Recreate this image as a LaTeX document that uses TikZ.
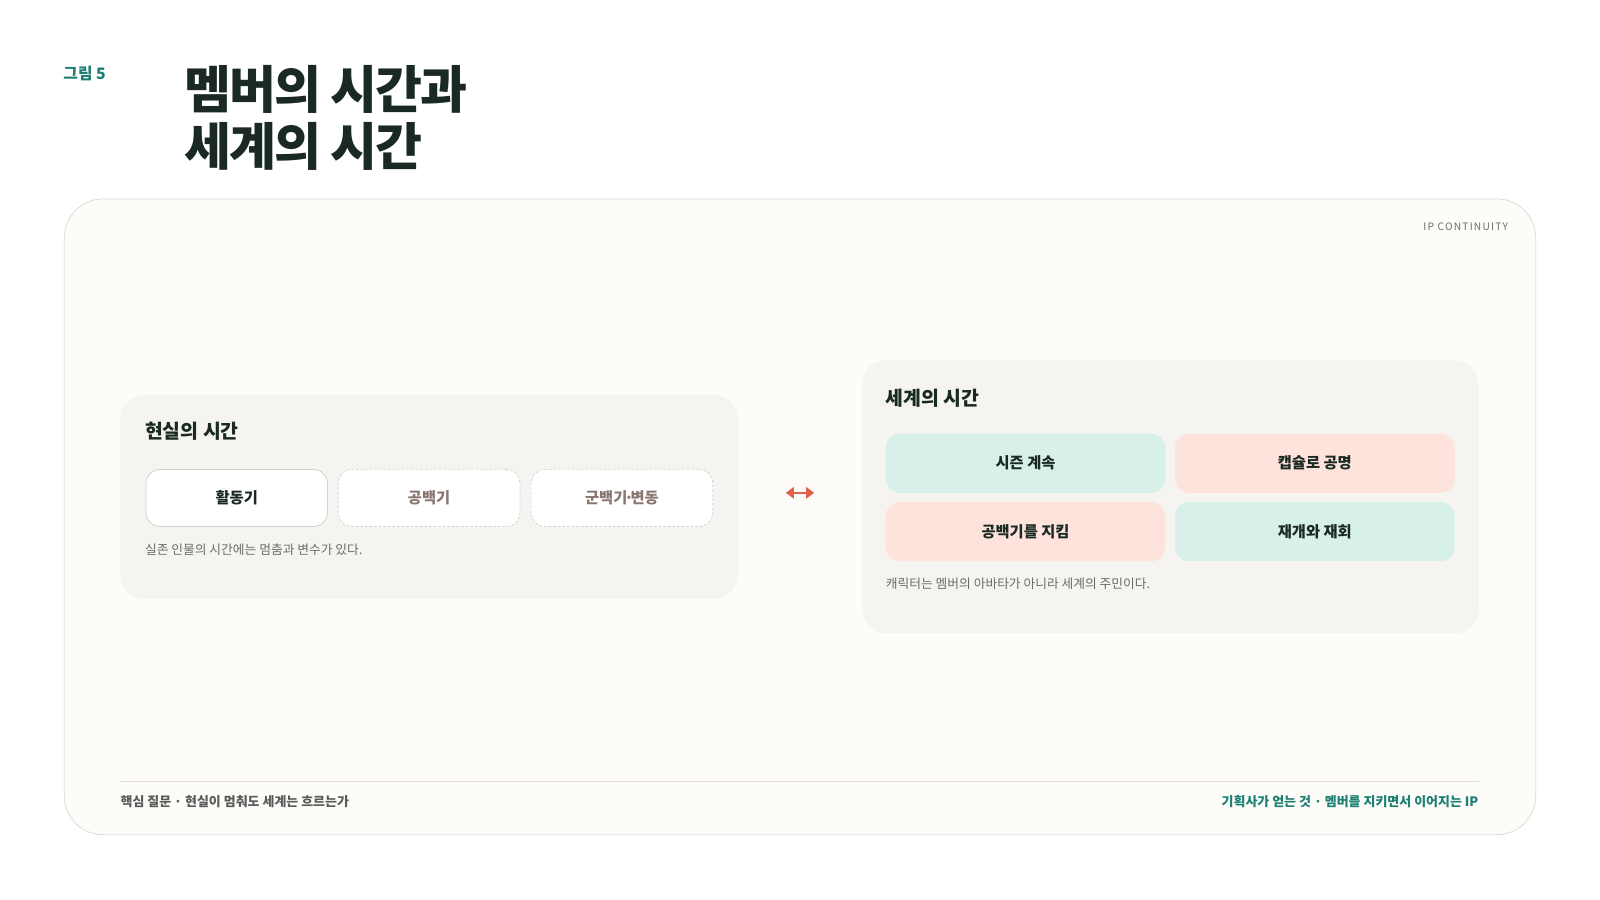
\documentclass[tikz,border=0pt]{standalone}
\usepackage{fontspec}
\setmainfont{Noto Sans CJK KR}
\usetikzlibrary{positioning,arrows.meta}
\definecolor{teal}{HTML}{1B7F72}
\definecolor{ink}{HTML}{1A2A22}
\definecolor{panelbg}{HTML}{FDFCF9}
\definecolor{panelline}{HTML}{E0DDD6}
\definecolor{cardbg}{HTML}{F5F4F0}
\definecolor{boxline}{HTML}{D6D1C9}
\definecolor{mutedtxt}{HTML}{8A7670}
\definecolor{captxt}{HTML}{6B6B6B}
\definecolor{mint}{HTML}{D8F0EA}
\definecolor{peach}{HTML}{FDE3DC}
\definecolor{arrowred}{HTML}{E0604A}
\definecolor{foottxt}{HTML}{5A5A5A}
\tikzset{
  card/.style={fill=cardbg, draw=none, rounded corners=24pt},
  phasebox/.style={fill=white, rounded corners=14pt, minimum width=178pt, minimum height=56pt, font=\bfseries\fontsize{15}{18}\selectfont},
  solidbox/.style={phasebox, draw=boxline, line width=0.8pt, text=ink},
  dashbox/.style={phasebox, draw=boxline, dashed, dash pattern=on 2.5pt off 2pt, line width=0.7pt, text=mutedtxt},
  worldbox/.style={rounded corners=14pt, draw=none, minimum width=274pt, minimum height=58pt, text=ink, font=\bfseries\fontsize{15}{18}\selectfont},
  cardtitle/.style={anchor=west, text=ink, font=\bfseries\fontsize{19}{22}\selectfont, inner sep=0pt},
  caption/.style={anchor=west, text=captxt, font=\fontsize{12.5}{15}\selectfont, inner sep=0pt},
}
\begin{document}
\begin{tikzpicture}[x=1pt,y=-1pt]
\useasboundingbox (0,0) rectangle (1568,882);
\fill[white] (0,0) rectangle (1568,882);
% header
\node[anchor=west, inner sep=0pt, text=teal, font=\bfseries\fontsize{15.5}{18}\selectfont] (fig) at (62,72) {그림 5};
\node[anchor=north west, inner sep=0pt, align=left, text=ink, font=\bfseries\fontsize{50}{56}\selectfont\addfontfeatures{LetterSpace=-4}] (title) at (180.5,64) {멤버의 시간과\\세계의 시간};
% outer panel
\draw[fill=panelbg, draw=panelline, line width=0.8pt, rounded corners=38pt] (63,195) rectangle (1505,818);
\node[anchor=east, inner sep=0pt, text=captxt, font=\fontsize{10}{12}\selectfont\addfontfeatures{LetterSpace=12}] (tag) at (1478,222) {IP CONTINUITY};
% left card
\fill[card] (118,387) rectangle (723,587);
\node[cardtitle] (lt) at (142,423) {현실의 시간};
\node[solidbox] (active) at (232,488) {활동기};
\node[dashbox] (gap) at (420.5,488) {공백기};
\node[dashbox] (army) at (609.5,488) {군백기\kern-3pt·\kern-3pt변동};
\node[caption] (lcap) at (142,539) {실존 인물의 시간에는 멈춤과 변수가 있다.};
% arrow
\coordinate (al) at (770,483);
\coordinate (ar) at (798,483);
\draw[arrowred, line width=2.6pt, <->, >={Stealth[length=8pt,width=11pt,inset=0pt]}] (al) -- (ar);
% right card
\fill[card] (845,353) rectangle (1449,621);
\node[cardtitle] (rt) at (868,390) {세계의 시간};
\node[worldbox, fill=mint] (season) at (1005,454) {시즌 계속};
\node[worldbox, fill=peach] (capsule) at (1288.5,454) {캡슐로 공명};
\node[worldbox, fill=peach] (guard) at (1005,521) {공백기를 지킴};
\node[worldbox, fill=mint] (resume) at (1288.5,521) {재개와 재회};
\node[caption] (rcap) at (868,572) {캐릭터는 멤버의 아바타가 아니라 세계의 주민이다.};
% footer
\coordinate (fl) at (118,766);
\coordinate (fr) at (1449,766);
\draw[panelline, line width=1pt] (fl) -- (fr);
\node[anchor=west, inner sep=0pt, text=foottxt, font=\bfseries\fontsize{12.7}{16}\selectfont] (fleft) at (118,786) {핵심 질문 · 현실이 멈춰도 세계는 흐르는가};
\node[anchor=east, inner sep=0pt, text=teal, font=\bfseries\fontsize{12.7}{16}\selectfont] (fright) at (1449,786) {기획사가 얻는 것 · 멤버를 지키면서 이어지는 IP};
\end{tikzpicture}
\end{document}
